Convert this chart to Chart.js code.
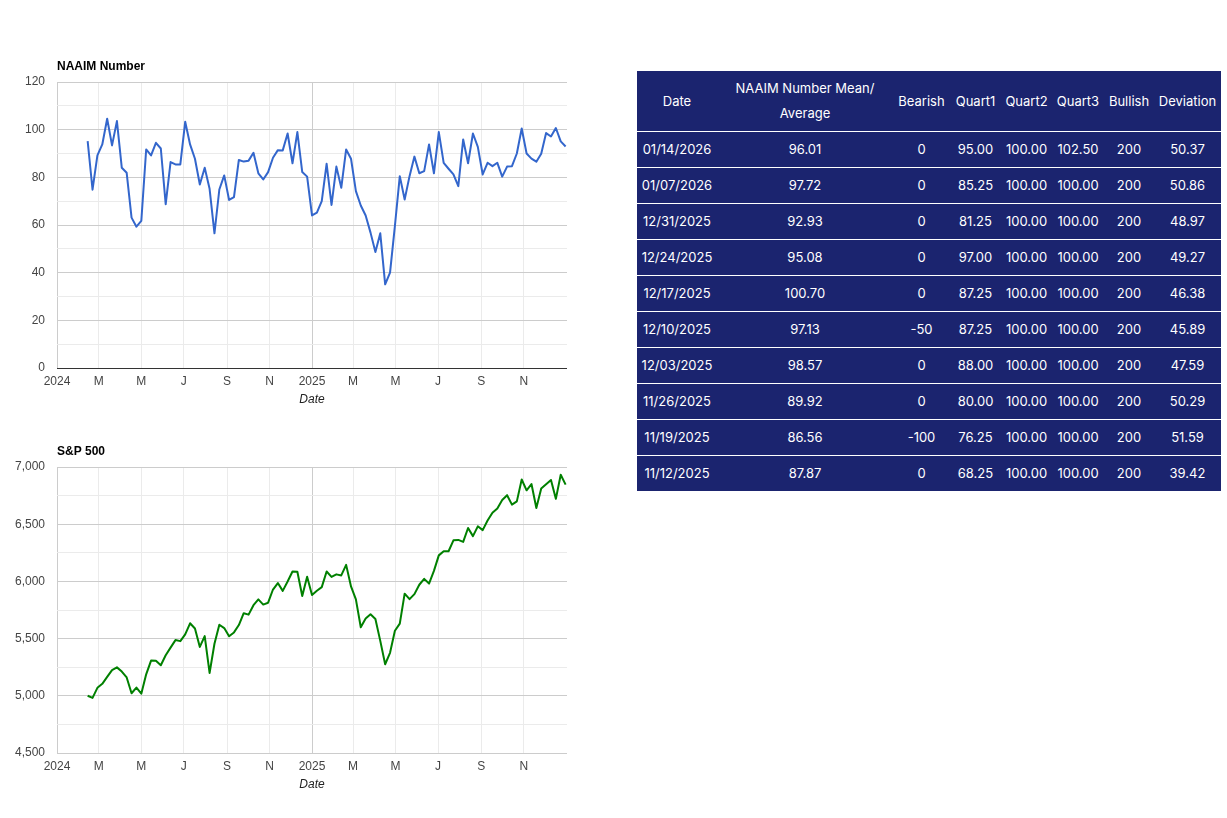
<!DOCTYPE html>
<html>
<head>
<meta charset="utf-8">
<script src="https://cdn.jsdelivr.net/npm/chart.js@4.4.1/dist/chart.umd.min.js"></script>
<style>
html,body{margin:0;padding:0;background:#fff;width:1227px;height:818px;overflow:hidden;}
.cw{position:absolute;left:0;width:600px;height:410px;}
#c1w{top:0;}
#c2w{top:385px;}
#tbl{position:absolute;left:637px;top:71px;width:584px;table-layout:fixed;border-collapse:separate;border-spacing:0;background:#1b246f;color:#fff;font-family:Inter,"Noto Sans",sans-serif;font-size:13px;}
#tbl th,#tbl td{text-align:center;font-weight:400;border-bottom:1px solid #fff;padding:0 2px;white-space:nowrap;}
#tbl th{padding:5px 2px 5px;line-height:25px;white-space:normal;vertical-align:middle;}
#tbl td{line-height:35px;}
</style>
</head>
<body>
<div class="cw" id="c1w"><canvas id="c1"></canvas></div>
<div class="cw" id="c2w"><canvas id="c2"></canvas></div>
<table id="tbl">
<colgroup>
<col style="width:80px"><col style="width:176px"><col style="width:57px"><col style="width:51px"><col style="width:51px"><col style="width:52px"><col style="width:50px"><col style="width:67px">
</colgroup>
<thead><tr id="thead"></tr></thead>
<tbody id="tbody"></tbody>
</table>
<script>
// ---------- chart data ----------
const weekDates = [
'2024-02-14','2024-02-21','2024-02-28','2024-03-06','2024-03-13','2024-03-20','2024-03-27','2024-04-03','2024-04-10','2024-04-17',
'2024-04-24','2024-05-01','2024-05-08','2024-05-15','2024-05-22','2024-05-29','2024-06-05','2024-06-12','2024-06-19','2024-06-26',
'2024-07-03','2024-07-10','2024-07-17','2024-07-24','2024-07-31','2024-08-07','2024-08-14','2024-08-21','2024-08-28','2024-09-04',
'2024-09-11','2024-09-18','2024-09-25','2024-10-02','2024-10-09','2024-10-16','2024-10-23','2024-10-30','2024-11-06','2024-11-13',
'2024-11-20','2024-11-27','2024-12-04','2024-12-11','2024-12-18','2024-12-25','2025-01-01','2025-01-08','2025-01-15','2025-01-22',
'2025-01-29','2025-02-05','2025-02-12','2025-02-19','2025-02-26','2025-03-05','2025-03-12','2025-03-19','2025-03-26','2025-04-02',
'2025-04-09','2025-04-16','2025-04-23','2025-04-30','2025-05-07','2025-05-14','2025-05-21','2025-05-28','2025-06-04','2025-06-11',
'2025-06-18','2025-06-25','2025-07-02','2025-07-09','2025-07-16','2025-07-23','2025-07-30','2025-08-06','2025-08-13','2025-08-20',
'2025-08-27','2025-09-03','2025-09-10','2025-09-17','2025-09-24','2025-10-01','2025-10-08','2025-10-15','2025-10-22','2025-10-29',
'2025-11-05','2025-11-12','2025-11-19','2025-11-26','2025-12-03','2025-12-10','2025-12-17','2025-12-24','2025-12-31'
];
const naaimValues = [
95.2,74.8,89.2,93.8,104.6,93.4,103.6,84.0,81.9,63.1,
59.3,61.7,91.7,89.2,94.5,92.1,68.7,86.4,85.4,85.4,
103.3,93.8,87.8,77.0,84.0,75.2,56.5,74.9,80.8,70.5,
71.7,87.3,86.6,87.0,90.3,81.7,79.1,82.2,88.2,91.4,
91.3,98.4,85.9,99.0,82.2,80.3,64.0,65.2,70.0,85.7,
68.4,84.5,75.6,91.7,87.8,74.2,68.2,64.0,56.8,48.7,
56.5,35.1,40.0,59.6,80.5,70.7,80.5,88.7,81.7,82.6,
93.8,81.7,99.0,86.1,83.6,81.2,76.3,95.9,85.9,98.4,
92.8,81.2,86.1,84.7,86.1,80.3,84.5,84.7,90.0,100.5,
90.0,87.87,86.56,89.92,98.57,97.13,100.70,95.08,92.93
];
const spxValues = [
5000.6,4981.8,5069.8,5104.8,5165.3,5224.6,5248.5,5211.5,5160.6,5022.2,
5071.6,5018.4,5187.7,5308.2,5307.0,5267.0,5354.0,5421.0,5487.0,5477.9,
5537.0,5633.9,5588.3,5427.1,5522.3,5199.5,5455.2,5620.9,5592.2,5520.1,
5554.1,5618.3,5722.3,5709.5,5792.0,5842.5,5797.4,5813.7,5929.0,5985.4,
5917.1,5998.7,6086.5,6084.2,5872.2,6040.0,5881.6,5918.3,5949.9,6086.4,
6039.3,6061.5,6052.0,6144.2,5956.1,5842.6,5599.3,5675.3,5712.2,5671.0,
5480.0,5275.7,5375.9,5569.1,5631.3,5892.6,5844.6,5888.6,5970.8,6022.2,
5980.9,6092.2,6227.4,6263.3,6263.7,6358.9,6362.9,6345.1,6466.6,6395.8,
6481.4,6448.3,6532.0,6600.4,6638.0,6711.2,6753.7,6671.1,6699.4,6890.6,
6796.3,6850.9,6642.2,6812.6,6849.7,6886.7,6721.4,6932.1,6845.5
];
const xTickDates = ['2024-01-01','2024-03-01','2024-05-01','2024-07-01','2024-09-01','2024-11-01','2025-01-01','2025-03-01','2025-05-01','2025-07-01','2025-09-01','2025-11-01'];
const xTickLabels = ['2024','M','M','J','S','N','2025','M','M','J','S','N'];
const xAxisStart = '2024-01-01';
const xAxisEnd = '2026-01-02';
const naaimYTicks = [0,10,20,30,40,50,60,70,80,90,100,110,120];
const naaimYLabels = ['0','','20','','40','','60','','80','','100','','120'];
const spxYTicks = [4500,4750,5000,5250,5500,5750,6000,6250,6500,6750,7000];
const spxYLabels = ['4,500','','5,000','','5,500','','6,000','','6,500','','7,000'];

// ---------- table data ----------
const tblHeaders = ['Date','NAAIM Number Mean/ Average','Bearish','Quart1','Quart2','Quart3','Bullish','Deviation'];
const tblDates = ['01/14/2026','01/07/2026','12/31/2025','12/24/2025','12/17/2025','12/10/2025','12/03/2025','11/26/2025','11/19/2025','11/12/2025'];
const tblMean = ['96.01','97.72','92.93','95.08','100.70','97.13','98.57','89.92','86.56','87.87'];
const tblBearish = ['0','0','0','0','0','-50','0','0','-100','0'];
const tblQuart1 = ['95.00','85.25','81.25','97.00','87.25','87.25','88.00','80.00','76.25','68.25'];
const tblQuart2 = ['100.00','100.00','100.00','100.00','100.00','100.00','100.00','100.00','100.00','100.00'];
const tblQuart3 = ['102.50','100.00','100.00','100.00','100.00','100.00','100.00','100.00','100.00','100.00'];
const tblBullish = ['200','200','200','200','200','200','200','200','200','200'];
const tblDeviation = ['50.37','50.86','48.97','49.27','46.38','45.89','47.59','50.29','51.59','39.42'];

// ---------- build table ----------
const thr = document.getElementById('thead');
tblHeaders.forEach(h => { const th = document.createElement('th'); th.textContent = h; thr.appendChild(th); });
const tb = document.getElementById('tbody');
tblDates.forEach((d, i) => {
  const tr = document.createElement('tr');
  [d, tblMean[i], tblBearish[i], tblQuart1[i], tblQuart2[i], tblQuart3[i], tblBullish[i], tblDeviation[i]].forEach(v => {
    const td = document.createElement('td'); td.textContent = v; tr.appendChild(td);
  });
  tb.appendChild(tr);
});

// ---------- charts ----------
const base = Date.parse(xAxisStart);
const day = s => Math.round((Date.parse(s) - base) / 86400000);
const FONT = 'Arial, "Liberation Sans", sans-serif';

const leftTitle = {
  id: 'leftTitle',
  afterDraw(chart, args, opts) {
    const { ctx, chartArea } = chart;
    ctx.save();
    ctx.font = 'bold 12px ' + FONT;
    ctx.fillStyle = '#000';
    ctx.textAlign = 'left';
    ctx.textBaseline = 'middle';
    ctx.fillText(opts.text, chartArea.left, chartArea.top - 15);
    ctx.restore();
  }
};

function makeChart(id, title, values, color, yTicks, yLabels, darkBase) {
  const xTicks = xTickDates.map(day);
  const dark2025 = day('2025-01-01');
  return new Chart(document.getElementById(id), {
    type: 'line',
    data: {
      datasets: [{
        data: weekDates.map((d, i) => ({ x: day(d), y: values[i] })),
        borderColor: color,
        borderWidth: 2,
        pointRadius: 0,
        tension: 0,
        borderJoinStyle: 'round',
        fill: false
      }]
    },
    plugins: [leftTitle],
    options: {
      responsive: true,
      maintainAspectRatio: false,
      animation: false,
      events: [],
      layout: { padding: { top: 82, right: 33, bottom: 0, left: 0 } },
      plugins: { legend: { display: false }, tooltip: { enabled: false }, leftTitle: { text: title } },
      scales: {
        x: {
          type: 'linear',
          min: day(xAxisStart),
          max: day(xAxisEnd),
          afterBuildTicks: s => { s.ticks = xTicks.map(v => ({ value: v })); },
          afterFit: s => { s.height = 42; },
          ticks: {
            autoSkip: false, maxRotation: 0, padding: 6, color: '#444',
            font: { family: FONT, size: 12 },
            callback: (v, i) => xTickLabels[i]
          },
          grid: {
            drawTicks: false, lineWidth: 1,
            color: c => (c.tick && (c.tick.value === dark2025 || c.tick.value === 0)) ? '#cccccc' : '#ebebeb'
          },
          border: { display: false },
          title: { display: true, text: 'Date', color: '#222', font: { family: FONT, size: 12, style: 'italic' }, padding: { top: 0, bottom: 3 } }
        },
        y: {
          min: yTicks[0],
          max: yTicks[yTicks.length - 1],
          afterBuildTicks: s => { s.ticks = yTicks.map(v => ({ value: v })); },
          afterFit: s => { s.width = 57; },
          ticks: {
            padding: 12, color: '#444', font: { family: FONT, size: 12 },
            callback: (v, i) => yLabels[i]
          },
          grid: {
            drawTicks: false, lineWidth: 1,
            color: c => {
              if (!c.tick) return '#ebebeb';
              if (darkBase && c.tick.value === 0) return '#333333';
              return yLabels[c.index] !== '' ? '#cccccc' : '#ebebeb';
            }
          },
          border: { display: false }
        }
      }
    }
  });
}

makeChart('c1', 'NAAIM Number', naaimValues, '#3366cc', naaimYTicks, naaimYLabels, true);
makeChart('c2', 'S&P 500', spxValues, '#008000', spxYTicks, spxYLabels, false);
</script>
</body>
</html>
